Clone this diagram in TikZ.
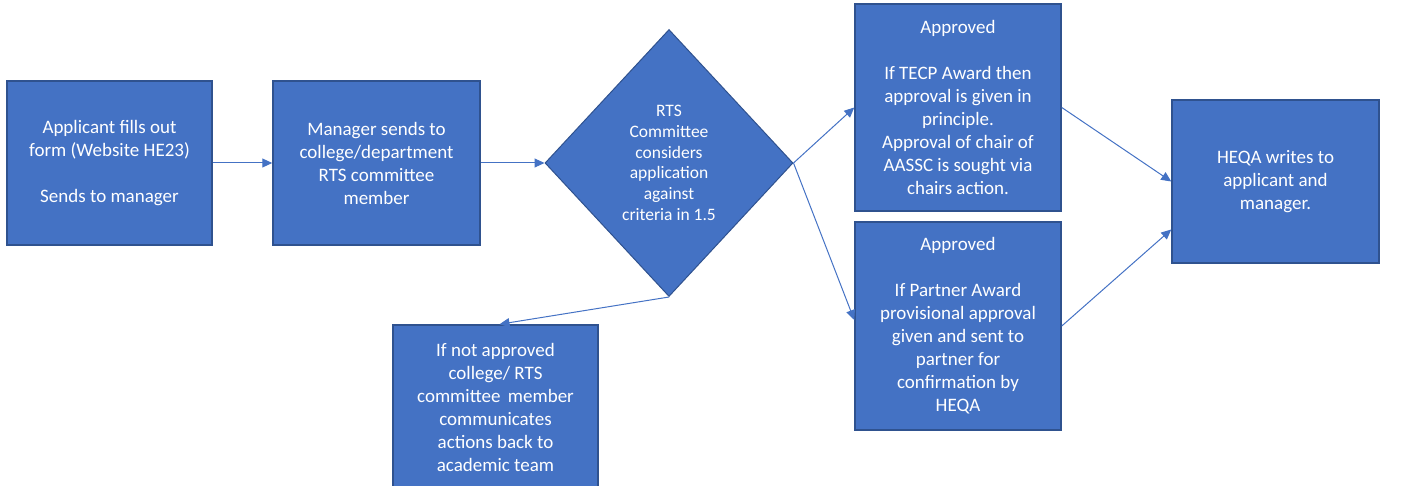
\documentclass[tikz,border=0pt]{standalone}
\usepackage{fontspec}
\setmainfont{Carlito}
\usetikzlibrary{shapes.geometric,arrows.meta}
\definecolor{boxfill}{HTML}{4472C4}
\definecolor{boxline}{HTML}{2F528F}
\tikzset{
  box/.style={draw=boxline, fill=boxfill, line width=1.5pt, text=white, align=center,
    inner sep=0pt, font=\fontsize{19}{23}\selectfont},
  decision/.style={diamond, draw=boxline, fill=boxfill, line width=1pt, text=white, align=center,
    inner sep=0pt, font=\fontsize{17.5}{20.7}\selectfont},
  conn/.style={draw=boxfill, line width=1pt, -{Triangle[length=10pt,width=9pt]}}
}
\begin{document}
\begin{tikzpicture}[x=1pt,y=-1pt]
\useasboundingbox (0,0) rectangle (1404,486);
\begin{scope}
\clip (0,0) rectangle (1404,486);
\node[box, minimum width=205pt, minimum height=164pt] (a) at (109.5,163)
  {Applicant fills out\\form (Website HE23)\\[23pt]Sends to manager};
\node[box, minimum width=207pt, minimum height=164pt] (b) at (376.5,163)
  {Manager sends to\\college/department\\RTS committee\\member};
\node[decision, minimum width=248pt, minimum height=267pt] (d) at (669,163)
  {RTS\\Committee\\considers\\application\\against\\criteria in 1.5};
\node[box, minimum width=205pt, minimum height=164pt] (c) at (495.5,407)
  {If not approved\\college/ RTS\\committee\, member\\communicates\\actions back to\\academic team};
\node[box, minimum width=206pt, minimum height=207pt] (p) at (958,107.5)
  {Approved\\[23pt]If TECP Award then\\approval is given in\\principle.\\Approval of chair of\\AASSC is sought via\\chairs action.};
\node[box, minimum width=206pt, minimum height=208pt] (q) at (958,326)
  {Approved\\[23pt]If Partner Award\\provisional approval\\given and sent to\\partner for\\confirmation by\\HEQA};
\node[box, minimum width=207pt, minimum height=163pt] (e) at (1275.5,181.5)
  {HEQA writes to\\applicant and\\manager.};
\end{scope}
\draw[conn] (a.east) -- (b.west);
\draw[conn] (b.east) -- (d.west);
\draw[conn] (d.east) -- (p.west);
\draw[conn] (d.east) -- ([yshift=6pt]q.west);
\draw[conn] (d.south) -- ([xshift=4pt]c.north);
\draw[conn] (p.east) -- (e.west);
\draw[conn] (q.east) -- ([yshift=-48pt]e.west);
\end{tikzpicture}
\end{document}
